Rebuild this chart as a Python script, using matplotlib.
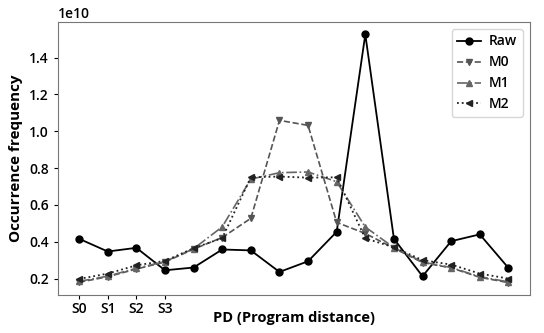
import matplotlib
matplotlib.use("Agg")
import matplotlib.pyplot as plt
import numpy as np

plt.rcParams['font.family'] = ['Open Sans', 'DejaVu Sans']
plt.rcParams['font.weight'] = 'semibold'

x_labels = ["S0", "S1", "S2", "S3"]
raw = [0.416, 0.347, 0.367, 0.245, 0.26, 0.358, 0.353, 0.236, 0.294, 0.454,
       1.526, 0.416, 0.2125, 0.403, 0.44, 0.258]
m0 = [0.18, 0.21, 0.252, 0.29, 0.36, 0.423, 0.527, 1.059, 1.032, 0.505,
      0.445, 0.365, 0.287, 0.258, 0.207, 0.178]
m1 = [0.185, 0.213, 0.256, 0.292, 0.362, 0.481, 0.74, 0.775, 0.779, 0.726,
      0.48, 0.368, 0.29, 0.26, 0.21, 0.182]
m2 = [0.198, 0.227, 0.272, 0.296, 0.365, 0.42, 0.75, 0.754, 0.748, 0.75,
      0.418, 0.37, 0.30, 0.276, 0.227, 0.20]
scale = 1e10

x = np.arange(len(raw))
fig = plt.figure(figsize=(5.44, 3.33), dpi=100)
ax = fig.add_axes([0.106, 0.114, 0.868, 0.82])

ax.plot(x, np.array(raw) * scale, color='black', linestyle='-', marker='o', markersize=5, linewidth=1.3, label='Raw')
ax.plot(x, np.array(m0) * scale, color='#555555', linestyle='--', marker='v', markersize=5, linewidth=1.2, label='M0')
ax.plot(x, np.array(m1) * scale, color='#666666', linestyle='-.', marker='^', markersize=5, linewidth=1.2, label='M1')
ax.plot(x, np.array(m2) * scale, color='#222222', linestyle=':', marker='<', markersize=5, linewidth=1.3, label='M2')

ax.set_xticks(range(len(x_labels)))
ax.set_xticklabels(x_labels, fontsize=10, fontweight='semibold')
ax.set_yticks(np.array([0.2, 0.4, 0.6, 0.8, 1.0, 1.2, 1.4]) * scale)
ax.tick_params(axis='y', labelsize=10)
ax.tick_params(axis='x', pad=2)
ax.yaxis.get_offset_text().set_fontsize(10)
ax.yaxis.get_offset_text().set_fontweight('semibold')
ax.set_xlabel('PD (Program distance)', fontsize=10.5, fontweight='bold')
ax.xaxis.set_label_coords(0.5, -0.06)
ax.set_ylabel('Occurrence frequency', fontsize=11, fontweight='bold')
for s in ax.spines.values():
    s.set_color('#777777')
ax.tick_params(colors='black', length=3)
ax.legend(loc='upper right', prop={'weight': 'semibold', 'size': 10},
          handlelength=1.7, handletextpad=0.6, borderaxespad=0.5)

fig.savefig('out.png', dpi=100)
